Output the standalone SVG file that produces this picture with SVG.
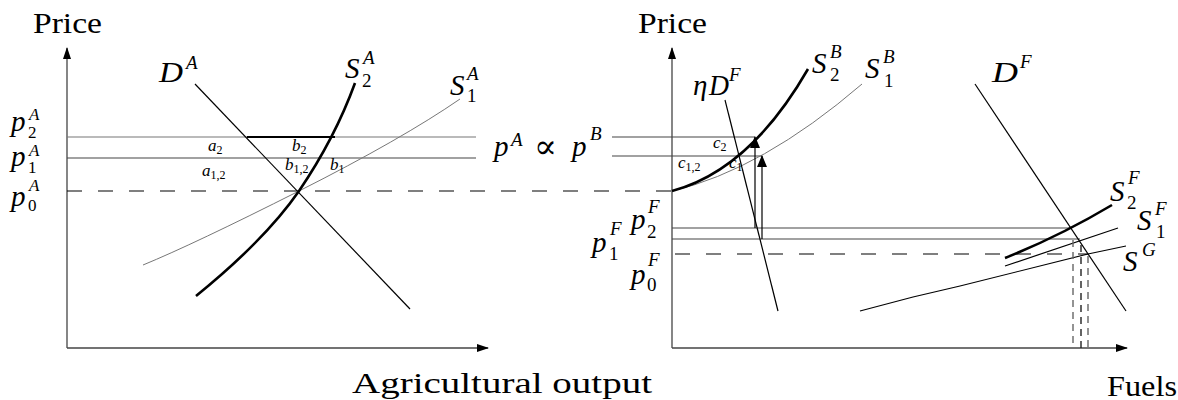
<svg xmlns="http://www.w3.org/2000/svg" width="1178" height="400" viewBox="0 0 1178 400">
<style>
text{font-family:'Liberation Serif','DejaVu Serif',serif;fill:#000}
.m{font-family:'Liberation Serif','DejaVu Serif',serif;font-size:29px;font-style:italic}
.r{font-family:'Liberation Serif','DejaVu Serif',serif;font-size:29px}
.sup{font-family:'Liberation Serif','DejaVu Serif',serif;font-size:19px;font-style:italic}
.sub{font-family:'Liberation Serif','DejaVu Serif',serif;font-size:19px}
.lsup{font-family:'Liberation Serif','DejaVu Serif',serif;font-size:17px;font-style:italic}
.lsub{font-family:'Liberation Serif','DejaVu Serif',serif;font-size:17px}
.s{font-family:'Liberation Serif','DejaVu Serif',serif;font-size:17px;font-style:italic}
.ss{font-size:12px;font-style:normal}
.prop{font-family:'DejaVu Serif','Liberation Serif',serif;font-size:34px}
.ax{stroke:#444;stroke-width:1.3;fill:none}
.th{stroke:#000;stroke-width:1.2;fill:none}
.gr{stroke:#777;stroke-width:1;fill:none}
.bk{stroke:#000;stroke-width:2.6;fill:none}
.hl{stroke:#444;stroke-width:1.2;fill:none}
.hg{stroke:#777;stroke-width:1.2;fill:none}
.da{stroke:#000;stroke-width:1.1;stroke-dasharray:15 16;fill:none}
.vd{stroke:#666;stroke-width:1.4;stroke-dasharray:7 5;fill:none}
</style>
<defs>
<marker id="ah" markerWidth="12" markerHeight="8" refX="11" refY="4" orient="auto" markerUnits="userSpaceOnUse">
<path d="M0,0 L12,4 L0,8 Z" fill="#000"/>
</marker>
<marker id="ah2" markerWidth="12" markerHeight="10" refX="11" refY="5" orient="auto" markerUnits="userSpaceOnUse">
<path d="M0,0 L12,5 L0,10 Z" fill="#000"/>
</marker>
</defs>
<rect width="1178" height="400" fill="#fff"/>

<g id="left-panel">
<g id="left-axes">
<line class="ax" x1="67" y1="348" x2="67" y2="48" marker-end="url(#ah)"/>
<line class="ax" x1="67" y1="348" x2="488" y2="348" marker-end="url(#ah)"/>
</g>
<g id="left-lines">
<line class="hg" x1="67" y1="137" x2="476" y2="137"/>
<line class="bk" x1="247" y1="137" x2="335" y2="137" style="stroke-width:2"/>
<line class="hl" x1="67" y1="158" x2="476" y2="158"/>
<line class="da" x1="67" y1="191" x2="672" y2="191"/>
<line class="th" x1="195" y1="84" x2="410" y2="309"/>
<path class="gr" d="M143,265 Q194,244 299,191 Q402,139 460,99"/>
<path class="bk" d="M196,296 Q265,240 299,191 Q335,138 355,83"/>
</g>
<g id="left-labels" font-family="Liberation Serif, DejaVu Serif, serif">
<text class="r" x="33" y="33" textLength="69" lengthAdjust="spacingAndGlyphs">Price</text>
<text class="m" x="159" y="82" textLength="24" lengthAdjust="spacingAndGlyphs">D</text><text class="sup" x="186" y="69">A</text>
<text class="m" x="345" y="78">S</text><text class="sup" x="363" y="64">A</text><text class="sub" x="362" y="87">2</text>
<text class="m" x="450" y="95">S</text><text class="sup" x="467" y="80">A</text><text class="sub" x="467" y="102">1</text>
<text class="m" x="11" y="131">p</text><text class="lsup" x="29" y="120">A</text><text class="lsub" x="28" y="138">2</text>
<text class="m" x="11" y="166">p</text><text class="lsup" x="29" y="156">A</text><text class="lsub" x="28" y="173">1</text>
<text class="m" x="11" y="206">p</text><text class="lsup" x="29" y="191">A</text><text class="lsub" x="28" y="211">0</text>
<text class="s" x="208" y="151">a<tspan class="ss" dy="3">2</tspan></text>
<text class="s" x="292" y="151">b<tspan class="ss" dy="3">2</tspan></text>
<text class="s" x="202" y="176">a<tspan class="ss" dy="3">1,2</tspan></text>
<text class="s" x="285" y="170">b<tspan class="ss" dy="3">1,2</tspan></text>
<text class="s" x="330" y="170">b<tspan class="ss" dy="3">1</tspan></text>
<text class="r" x="352" y="393" textLength="300" lengthAdjust="spacingAndGlyphs">Agricultural output</text>
</g>
</g>

<g id="right-panel">
<g id="right-axes">
<line class="ax" x1="672" y1="348" x2="672" y2="48" marker-end="url(#ah)"/>
<line class="ax" x1="672" y1="348" x2="1127" y2="348" marker-end="url(#ah)"/>
</g>
<g id="right-lines">
<line class="hl" x1="612" y1="137" x2="755" y2="137"/>
<line class="hl" x1="612" y1="156" x2="762" y2="156"/>
<line class="hl" x1="672" y1="228" x2="1072" y2="228"/>
<line class="hl" x1="672" y1="239" x2="1080" y2="239"/>
<line class="da" x1="675" y1="254" x2="1088" y2="254"/>
<path class="gr" d="M672,191 Q762,170 862,84"/>
<path class="bk" d="M672,191 Q750,170 808,69"/>
<line class="th" x1="725" y1="100" x2="778" y2="311"/>
<line class="th" x1="975" y1="84" x2="1126" y2="311"/>
<path class="bk" d="M1005,258 Q1060,236 1112,205"/>
<line class="th" x1="1005" y1="266" x2="1118" y2="228"/>
<path class="th" d="M860,311 L913,297 L960,286 L1088,254 L1126,246"/>
<line class="vd" x1="1073" y1="240" x2="1073" y2="348"/>
<line class="vd" x1="1081" y1="245" x2="1081" y2="348" style="stroke:#222"/>
<line class="vd" x1="1088" y1="256" x2="1088" y2="348"/>
</g>
<g id="connectors">
<line class="th" x1="755" y1="228" x2="755" y2="137" marker-end="url(#ah2)"/>
<line class="th" x1="762" y1="239" x2="762" y2="156" marker-end="url(#ah2)"/>
</g>
<g id="right-labels" font-family="Liberation Serif, DejaVu Serif, serif">
<text class="r" x="638" y="33" textLength="69" lengthAdjust="spacingAndGlyphs">Price</text>
<text class="m" x="693" y="95">η</text><text class="m" x="709" y="95" textLength="20" lengthAdjust="spacingAndGlyphs">D</text><text class="sup" x="729" y="81">F</text>
<text class="m" x="812" y="73">S</text><text class="sup" x="830" y="58">B</text><text class="sub" x="830" y="81">2</text>
<text class="m" x="865" y="78">S</text><text class="sup" x="883" y="63">B</text><text class="sub" x="884" y="87">1</text>
<text class="m" x="992" y="82" textLength="26" lengthAdjust="spacingAndGlyphs">D</text><text class="sup" x="1020" y="68">F</text>
<text class="m" x="1110" y="201">S</text><text class="sup" x="1128" y="184">F</text><text class="sub" x="1127" y="209">2</text>
<text class="m" x="1137" y="230">S</text><text class="sup" x="1155" y="215">F</text><text class="sub" x="1156" y="238">1</text>
<text class="m" x="1123" y="271">S</text><text class="sup" x="1142" y="256">G</text>
<text class="m" x="494" y="156">p</text><text class="sup" x="511" y="146">A</text>
<text class="prop" x="534" y="158">∝</text>
<text class="m" x="572" y="156">p</text><text class="sup" x="590" y="140">B</text>
<text class="m" x="631" y="229">p</text><text class="sup" x="648" y="213">F</text><text class="sub" x="647" y="238">2</text>
<text class="m" x="592" y="252">p</text><text class="sup" x="610" y="235">F</text><text class="sub" x="609" y="260">1</text>
<text class="m" x="631" y="284">p</text><text class="sup" x="648" y="266">F</text><text class="sub" x="647" y="291">0</text>
<text class="s" x="713" y="148">c<tspan class="ss" dy="3">2</tspan></text>
<text class="s" x="678" y="168">c<tspan class="ss" dy="3">1,2</tspan></text>
<text class="s" x="729" y="168">c<tspan class="ss" dy="3">1</tspan></text>
<text class="r" x="1107" y="396" textLength="70" lengthAdjust="spacingAndGlyphs">Fuels</text>
</g>
</g>
</svg>
